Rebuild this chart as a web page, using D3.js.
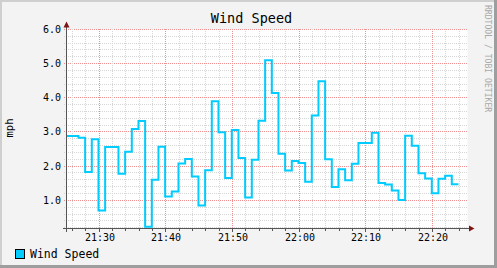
<!DOCTYPE html>
<html><head><meta charset="utf-8">
<script src="https://cdn.jsdelivr.net/npm/d3@7"></script>
<style>
html,body{margin:0;padding:0;background:#F3F3F3;}
svg{display:block;}
text{font-family:"DejaVu Sans Mono",monospace;}
</style></head>
<body>
<svg id="chart" width="497" height="268"></svg>
<script>
// ---- data ----
const title = "Wind Speed";
const yLabel = "mph";
const seriesName = "Wind Speed";
const watermark = "RRDTOOL / TOBI OETIKER";
const firstStepStart = "2000-01-01T21:24:54"; // start of first 1-minute step
const stepSeconds = 60;
const windSpeed = [2.88, 2.88, 2.83, 1.83, 2.79, 0.70, 2.56, 2.56, 1.78, 2.42,
  3.09, 3.32, 0.23, 1.60, 2.57, 1.11, 1.26, 2.08, 2.21, 1.70,
  0.85, 1.88, 3.90, 2.99, 1.65, 3.06, 2.24, 1.08, 2.19, 3.33,
  5.10, 4.14, 2.36, 1.87, 2.15, 2.09, 1.54, 3.48, 4.48, 2.20,
  1.39, 1.91, 1.59, 2.07, 2.68, 2.68, 2.98, 1.51, 1.46, 1.29,
  1.01, 2.89, 2.60, 1.79, 1.64, 1.21, 1.63, 1.72, 1.47];
const timeDomain = ["2000-01-01T21:25:00", "2000-01-01T22:25:00"];
const yDomain = [0.17, 6.0];
const yTickValues = [1, 2, 3, 4, 5, 6];
const yTickLabels = ["1.0", "2.0", "3.0", "4.0", "5.0", "6.0"];
const xTickLabels = ["21:30", "21:40", "21:50", "22:00", "22:10", "22:20"];

// ---- layout ----
const W = 497, H = 268;
const pL = 65.8, pR = 465.8, pT = 29.4, pB = 228.7;
const svg = d3.select("#chart");
const parse = d3.timeParse("%Y-%m-%dT%H:%M:%S");
const x = d3.scaleTime().domain(timeDomain.map(parse)).range([pL, pR]);
const y = d3.scaleLinear().domain(yDomain).range([pB, pT]);
const px = v => Math.floor(v) + 0.5;

// background + frame shading
svg.append("rect").attr("width", W).attr("height", H).attr("fill", "#F3F3F3");
svg.append("rect").attr("x", 0).attr("y", 0).attr("width", W).attr("height", 2).attr("fill", "#CFCFCF");
svg.append("rect").attr("x", 0).attr("y", 0).attr("width", 2).attr("height", H).attr("fill", "#CFCFCF");
svg.append("rect").attr("x", 0).attr("y", H - 3).attr("width", W).attr("height", 3).attr("fill", "#9E9E9E");
svg.append("rect").attr("x", W - 3).attr("y", 0).attr("width", 3).attr("height", H).attr("fill", "#9E9E9E");

// canvas
svg.append("rect").attr("x", 66).attr("y", 29).attr("width", 401.5).attr("height", 199.5).attr("fill", "#FFFFFF");

// grid
const g = svg.append("g").attr("shape-rendering", "crispEdges");
const minorX = d3.timeMinute.every(2).range(x.domain()[0], x.domain()[1]);
const minorY = d3.range(2, 61, 2).map(d => d / 10).filter(v => v >= yDomain[0] && v <= yDomain[1]);
const isMajorT = t => t.getMinutes() % 10 === 0;
const isMajorV = v => Math.abs(v - Math.round(v)) < 1e-6;
const gridGrey = "#D6D6D6", gridRed = "#F09090";

minorY.forEach(v => {
  g.append("line").attr("x1", 64).attr("x2", 467.5)
    .attr("y1", px(y(v))).attr("y2", px(y(v)))
    .attr("stroke", isMajorV(v) ? gridRed : gridGrey)
    .attr("stroke-dasharray", "1,1");
});
minorX.forEach(t => {
  if (x(t) <= pL + 1) return;
  g.append("line").attr("y1", 29).attr("y2", 229)
    .attr("x1", px(x(t))).attr("x2", px(x(t)))
    .attr("stroke", isMajorT(t) ? gridRed : gridGrey)
    .attr("stroke-dasharray", "1,1");
  g.append("line").attr("y1", 229).attr("y2", isMajorT(t) ? 232 : 231)
    .attr("x1", px(x(t))).attr("x2", px(x(t))).attr("stroke", "#555");
});

// data line
svg.append("clipPath").attr("id", "clip").append("rect")
  .attr("x", 66).attr("y", 20).attr("width", 402).attr("height", 210);
const t0 = parse(firstStepStart);
const pts = windSpeed.map((v, i) => ({ t: new Date(t0.getTime() + i * stepSeconds * 1000), v }));
pts.push({ t: new Date(t0.getTime() + windSpeed.length * stepSeconds * 1000), v: windSpeed[windSpeed.length - 1] });
const line = d3.line().x(d => x(d.t)).y(d => y(d.v)).curve(d3.curveStepAfter);
svg.append("path").datum(pts).attr("d", line)
  .attr("clip-path", "url(#clip)")
  .attr("fill", "none").attr("stroke", "#00CCFF").attr("stroke-width", 2)
  .attr("stroke-linejoin", "miter");

// axes
const ax = svg.append("g").attr("shape-rendering", "crispEdges");
ax.append("line").attr("x1", 63).attr("x2", 469).attr("y1", 228.5).attr("y2", 228.5).attr("stroke", "#555");
ax.append("line").attr("x1", 66.5).attr("x2", 66.5).attr("y1", 27).attr("y2", 232).attr("stroke", "#555");
svg.append("path").attr("d", "M469,225.5L474.5,228.5L469,231.5Z").attr("fill", "#7F1414");
svg.append("path").attr("d", "M63.5,27.5L66.5,21.5L69.5,27.5Z").attr("fill", "#7F1414");

// y tick labels
svg.append("g").selectAll("text").data(yTickValues).join("text")
  .attr("x", 61).attr("y", d => px(y(d)) + 3.6)
  .attr("text-anchor", "end").attr("font-size", "10px").attr("fill", "#000")
  .text((d, i) => yTickLabels[i]);

// x tick labels
const majorT = minorX.filter(isMajorT);
svg.append("g").selectAll("text").data(majorT).join("text")
  .attr("x", d => px(x(d)) + 0.5).attr("y", 240.5)
  .attr("text-anchor", "middle").attr("font-size", "10px").attr("fill", "#000")
  .text((d, i) => xTickLabels[i]);

// title
svg.append("text").attr("x", 251.5).attr("y", 23.3).attr("text-anchor", "middle")
  .attr("font-size", "13.5px").attr("fill", "#000").text(title);

// y label
svg.append("text").attr("transform", "translate(13,128) rotate(-90)")
  .attr("text-anchor", "middle").attr("font-size", "10.5px").attr("fill", "#000").text(yLabel);

// watermark
svg.append("text").attr("transform", "translate(485,5) rotate(90)")
  .attr("text-anchor", "start").attr("font-size", "8.1px").attr("fill", "#A8A8A8").text(watermark);

// legend
svg.append("rect").attr("x", 15.5).attr("y", 249.5).attr("width", 9).attr("height", 9)
  .attr("fill", "#00CCFF").attr("stroke", "#000").attr("stroke-width", 1);
svg.append("text").attr("x", 30).attr("y", 257.6).attr("font-size", "11.5px").attr("fill", "#000").text(seriesName);
</script>
</body></html>
